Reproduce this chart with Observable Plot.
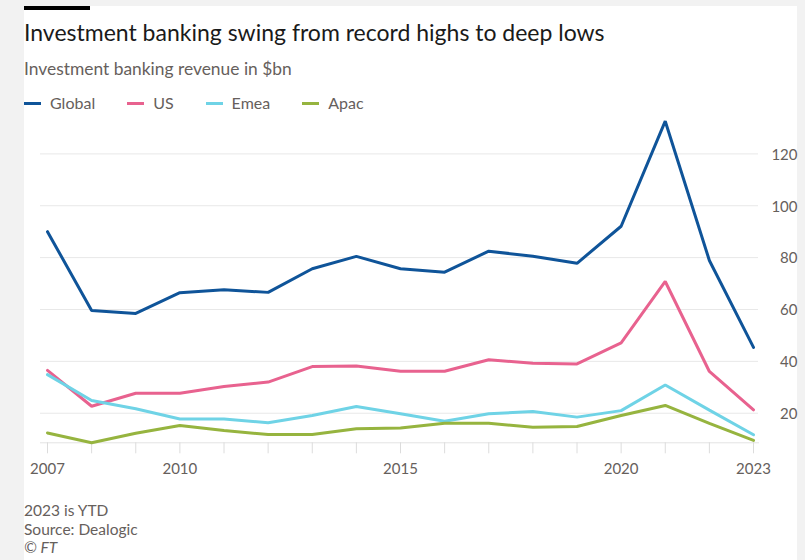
<!DOCTYPE html>
<html><head><meta charset="utf-8">
<script src="https://cdn.jsdelivr.net/npm/d3@7"></script>
<script src="https://cdn.jsdelivr.net/npm/@observablehq/plot@0.6"></script>
<style>
body{margin:0;background:#f2f2f2;width:805px;height:560px;overflow:hidden;position:relative;font-family:Lato,sans-serif;}
#panel{position:absolute;left:24px;top:6px;width:773px;height:554px;background:#fff;}
#bar{position:absolute;left:24px;top:6px;width:66px;height:4px;background:#000;}
.t{position:absolute;left:24px;white-space:nowrap;}
#title{top:19px;font-size:23px;line-height:27.6px;color:#1a1a1a;}
#subtitle{top:59px;font-size:17.4px;line-height:20.4px;color:#66605c;}
#legend{top:93px;font-size:16px;line-height:20px;color:#66605c;display:flex;}
.item{display:flex;align-items:center;margin-right:32px;}
.sw{width:17px;height:3px;margin-right:9px;}
#chart{position:absolute;left:0;top:110px;}
#notes{top:501px;font-size:15.5px;line-height:18.5px;color:#66605c;}
</style></head>
<body>
<div id="panel"></div>
<div id="bar"></div>
<div class="t" id="title">Investment banking swing from record highs to deep lows</div>
<div class="t" id="subtitle">Investment banking revenue in $bn</div>
<div class="t" id="legend"></div>
<div id="chart"></div>
<div class="t" id="notes">2023 is YTD<br>Source: Dealogic<br><i>© FT</i></div>
<script>
const years = [2007,2008,2009,2010,2011,2012,2013,2014,2015,2016,2017,2018,2019,2020,2021,2022,2023];
const globalRev = [90.0,59.6,58.5,66.5,67.6,66.6,75.7,80.5,75.7,74.4,82.5,80.5,77.8,92.1,132.6,78.9,45.4];
const usRev     = [36.5,22.7,27.7,27.7,30.3,32.0,38.0,38.2,36.2,36.2,40.6,39.3,39.0,47.1,70.8,36.1,21.3];
const emeaRev   = [34.9,24.9,21.7,17.8,17.8,16.3,19.1,22.6,19.8,16.9,19.8,20.7,18.5,21.0,30.9,21.2,11.7];
const apacRev   = [12.4,8.6,12.3,15.3,13.3,11.8,11.8,14.0,14.3,16.1,16.1,14.6,14.9,19.1,23.0,16.1,9.5];
const seriesNames = ["Global","US","Emea","Apac"];
const seriesColors = ["#0f5499","#e8628f","#6fd3e6","#96b43f"];
const yTicks = [20,40,60,80,100,120];
const labeledYears = [2007,2010,2015,2020,2023];

const seriesValues = [globalRev, usRev, emeaRev, apacRev];
const data = [];
seriesNames.forEach((s, k) => years.forEach((y, i) => data.push({series: s, year: y, value: seriesValues[k][i]})));

const legend = document.getElementById("legend");
seriesNames.forEach((s, k) => {
  const it = document.createElement("div"); it.className = "item";
  const sw = document.createElement("div"); sw.className = "sw"; sw.style.background = seriesColors[k];
  const tx = document.createElement("span"); tx.textContent = s;
  it.appendChild(sw); it.appendChild(tx); legend.appendChild(it);
});

const chart = Plot.plot({
  width: 805, height: 380,
  marginTop: 10.7, marginBottom: 47.7, marginLeft: 40, marginRight: 47,
  insetLeft: 7, insetRight: 5,
  style: {background: "transparent", fontFamily: "Lato, sans-serif", fontSize: "15px", color: "#66605c"},
  x: {domain: [years[0], years[years.length - 1]]},
  color: {domain: seriesNames, range: seriesColors},
  marks: [
    Plot.gridY(yTicks, {stroke: "#e8e8e8", strokeOpacity: 1}),
    Plot.frame({anchor: "bottom", stroke: "#e3e3e3"}),
    Plot.axisX({ticks: years, tickSize: 11, tickPadding: 10, stroke: "#dcdcdc",
      tickFormat: d => labeledYears.includes(d) ? String(d) : "", label: null}),
    Plot.axisY({anchor: "right", ticks: yTicks, tickSize: 0, textAnchor: "end", dx: 30, dy: 1, label: null}),
    Plot.line(data, {x: "year", y: "value", z: "series", stroke: "series", strokeWidth: 3, strokeLinejoin: "miter"})
  ]
});
document.getElementById("chart").appendChild(chart);
</script>
</body></html>
